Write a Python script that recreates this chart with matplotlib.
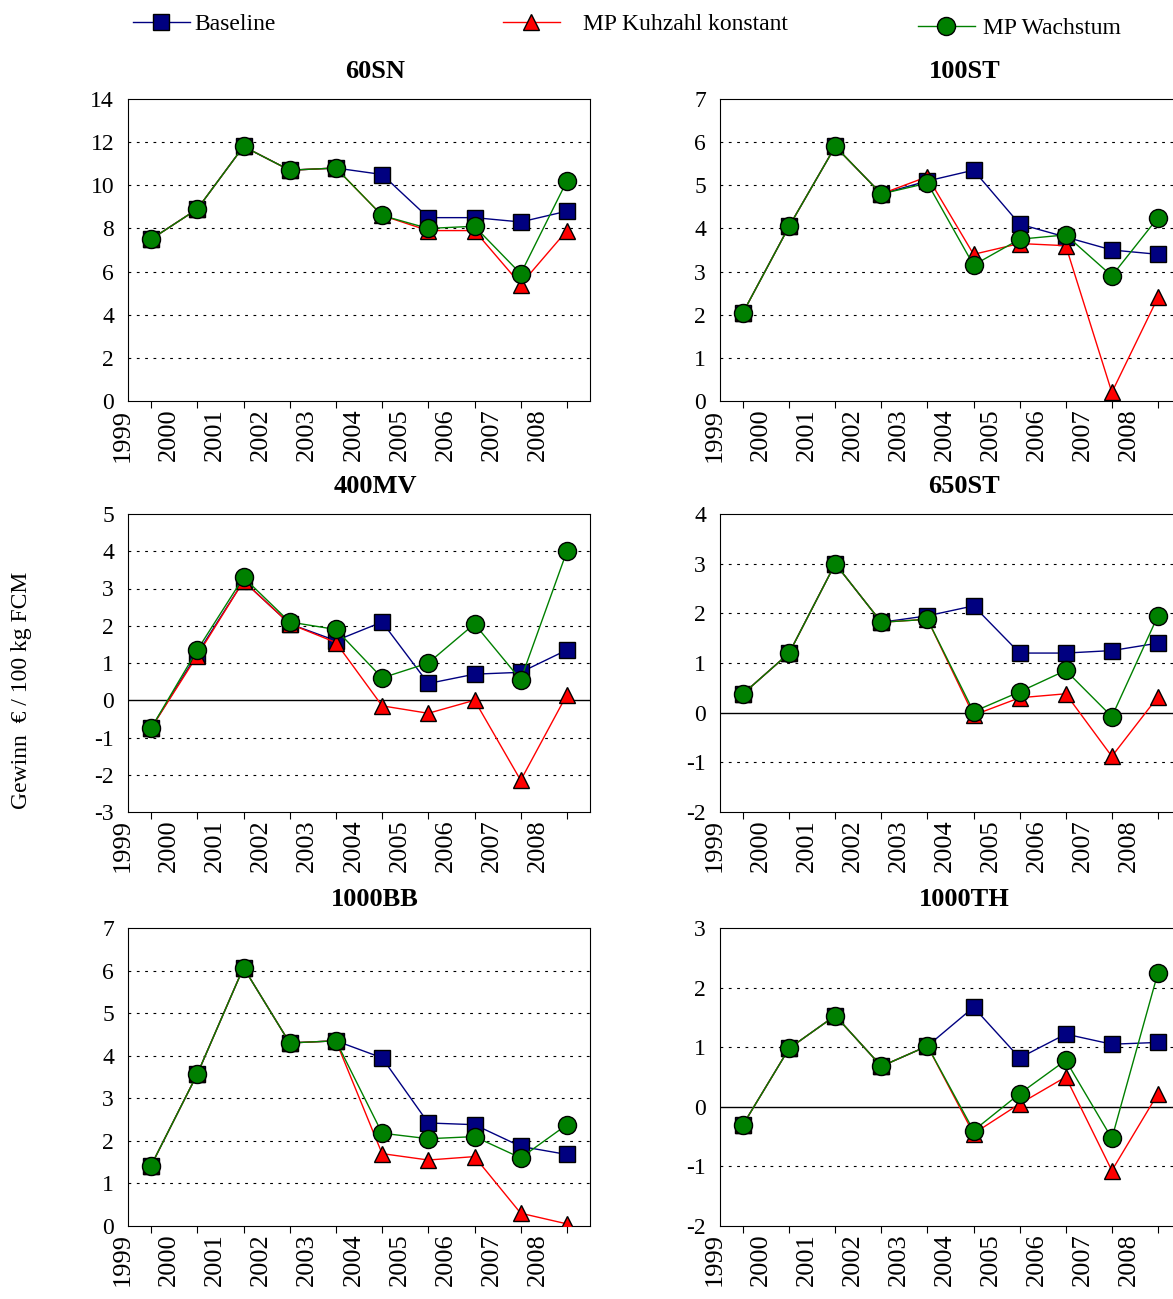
import matplotlib
matplotlib.use('Agg')
import matplotlib.pyplot as plt
from matplotlib.lines import Line2D

plt.rcParams['font.family'] = ['Liberation Serif', 'DejaVu Serif']
plt.rcParams['axes.unicode_minus'] = False

years = ['1999', '2000', '2001', '2002', '2003', '2004', '2005', '2006', '2007', '2008']

# Gewinn je Betrieb: (Baseline, MP Kuhzahl konstant, MP Wachstum)
sn60_base = [7.5, 8.9, 11.8, 10.7, 10.8, 10.5, 8.5, 8.5, 8.3, 8.8]
sn60_kuh = [7.5, 8.9, 11.8, 10.7, 10.8, 8.6, 7.9, 7.9, 5.4, 7.9]
sn60_wachs = [7.5, 8.9, 11.8, 10.7, 10.8, 8.6, 8.0, 8.1, 5.9, 10.2]

st100_base = [2.05, 4.05, 5.9, 4.8, 5.1, 5.35, 4.1, 3.8, 3.5, 3.4]
st100_kuh = [2.05, 4.05, 5.9, 4.8, 5.2, 3.4, 3.65, 3.6, 0.2, 2.4]
st100_wachs = [2.05, 4.05, 5.9, 4.8, 5.05, 3.15, 3.75, 3.85, 2.9, 4.25]

mv400_base = [-0.75, 1.25, 3.2, 2.05, 1.6, 2.1, 0.45, 0.7, 0.75, 1.35]
mv400_kuh = [-0.75, 1.2, 3.2, 2.05, 1.55, -0.15, -0.35, 0.0, -2.15, 0.15]
mv400_wachs = [-0.75, 1.35, 3.3, 2.1, 1.9, 0.6, 1.0, 2.05, 0.55, 4.0]

st650_base = [0.38, 1.2, 3.0, 1.82, 1.95, 2.15, 1.2, 1.2, 1.25, 1.4]
st650_kuh = [0.38, 1.2, 3.0, 1.82, 1.88, -0.05, 0.3, 0.38, -0.88, 0.32]
st650_wachs = [0.38, 1.2, 3.0, 1.82, 1.88, 0.02, 0.42, 0.85, -0.08, 1.95]

bb1000_base = [1.42, 3.57, 6.07, 4.3, 4.35, 3.95, 2.42, 2.38, 1.87, 1.68]
bb1000_kuh = [1.42, 3.57, 6.07, 4.3, 4.35, 1.7, 1.55, 1.63, 0.3, 0.05]
bb1000_wachs = [1.42, 3.57, 6.07, 4.3, 4.35, 2.18, 2.05, 2.1, 1.6, 2.38]

th1000_base = [-0.3, 0.98, 1.53, 0.68, 1.02, 1.67, 0.82, 1.22, 1.05, 1.08]
th1000_kuh = [-0.3, 0.98, 1.53, 0.68, 1.02, -0.45, 0.05, 0.5, -1.07, 0.22]
th1000_wachs = [-0.3, 0.98, 1.53, 0.68, 1.02, -0.4, 0.22, 0.78, -0.53, 2.25]

panels = [
    ('60SN', sn60_base, sn60_kuh, sn60_wachs, (0, 14), 2),
    ('100ST', st100_base, st100_kuh, st100_wachs, (0, 7), 1),
    ('400MV', mv400_base, mv400_kuh, mv400_wachs, (-3, 5), 1),
    ('650ST', st650_base, st650_kuh, st650_wachs, (-2, 4), 1),
    ('1000BB', bb1000_base, bb1000_kuh, bb1000_wachs, (0, 7), 1),
    ('1000TH', th1000_base, th1000_kuh, th1000_wachs, (-2, 3), 1),
]

W, H = 1173, 1299
fig = plt.figure(figsize=(W / 100, H / 100), dpi=100)

lefts = [128, 720]
rights = [590, 1181]
rows = [(99, 401), (514, 812), (928, 1226)]

base_style = dict(color='#000080', marker='s', markersize=12, markerfacecolor='#000080',
                  markeredgecolor='black', lw=1)
kuh_style = dict(color='red', marker='^', markersize=12, markerfacecolor='red',
                 markeredgecolor='black', lw=1)
wachs_style = dict(color='#008000', marker='o', markersize=13, markerfacecolor='#008000',
                   markeredgecolor='black', lw=1)

x = list(range(len(years)))
for k, (name, b, m, w, ylim, step) in enumerate(panels):
    r, c = divmod(k, 2)
    top, bot = rows[r]
    ax = fig.add_axes([lefts[c] / W, 1 - bot / H, (rights[c] - lefts[c]) / W, (bot - top) / H])
    ax.plot(x, b, **base_style, zorder=3)
    ax.plot(x, m, **kuh_style, zorder=4)
    ax.plot(x, w, **wachs_style, zorder=5)
    ax.set_xlim(-0.5, 9.5)
    ax.set_ylim(*ylim)
    yt = list(range(ylim[0], ylim[1] + 1, step))
    ax.set_yticks(yt)
    ax.tick_params(axis='y', labelsize=17, length=0, pad=10)
    for v in yt[1:-1]:
        if v == 0:
            ax.axhline(0, color='black', lw=1, zorder=2)
        else:
            ax.axhline(v, color='black', lw=0.8, ls=(0, (2.5, 5)), zorder=1)
    ax.set_xticks(x)
    ax.set_xticklabels([])
    ax.tick_params(axis='x', direction='out', length=5)
    for i, yr in enumerate(years):
        ax.text(i - 0.62, ylim[0] - (ylim[1] - ylim[0]) * 0.025, yr, rotation=90, ha='center',
                va='top', fontsize=19, clip_on=False)
    title_x = 0.535 if c == 0 else 0.53
    ax.text(title_x, 1 + 28 / (bot - top), name, transform=ax.transAxes, fontsize=19,
            fontweight='bold', ha='center', va='center')
    for s in ax.spines.values():
        s.set_linewidth(0.8)

fig.text(22 / W, 1 - 690 / H, 'Gewinn  € / 100 kg FCM', rotation=90, ha='center', va='center', fontsize=17)

handles = [Line2D([], [], **base_style), Line2D([], [], **kuh_style), Line2D([], [], **wachs_style)]
labels = ['Baseline', 'MP Kuhzahl konstant', 'MP Wachstum']
legend_x = [133, 503, 918]
legend_y = [24, 24, 28]
text_pad = [0.2, 1.0, 0.35]
for h, lab, lx, ly, tp in zip(handles, labels, legend_x, legend_y, text_pad):
    fig.legend([h], [lab], loc='center left', bbox_to_anchor=(lx / W, 1 - ly / H), frameon=False,
               fontsize=17, handlelength=2.4, handletextpad=tp,
               borderaxespad=0, borderpad=0)

fig.savefig('out.png', dpi=100)
